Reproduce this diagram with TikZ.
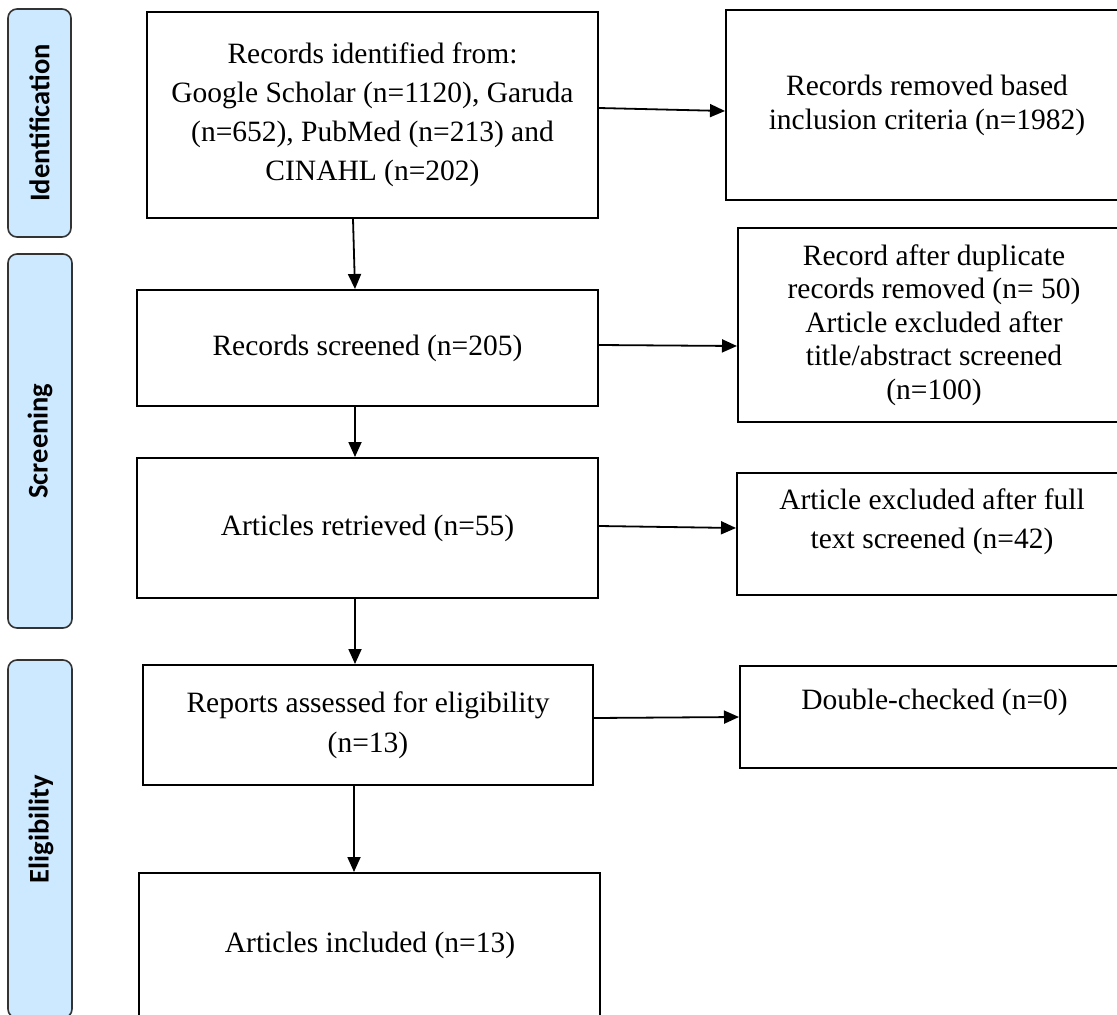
\documentclass[tikz,border=0pt]{standalone}
\usepackage{fontspec}
\setmainfont{Liberation Serif}
\newfontfamily\sidefont{Carlito}
\usetikzlibrary{arrows.meta}
\definecolor{sidefill}{HTML}{CCE9FF}
\definecolor{sidedraw}{HTML}{333333}
\begin{document}
\begin{tikzpicture}[x=1pt,y=-1pt,
  box/.style={draw=black, line width=2pt, inner sep=0pt, align=center},
  txt/.style={inner sep=0pt, align=center},
  side/.style={draw=sidedraw, fill=sidefill, line width=1.6pt, rounded corners=9pt, inner sep=0pt},
  sidetxt/.style={rotate=90, inner sep=0pt, font=\sidefont\bfseries\fontsize{28.5}{30}\selectfont},
  arr/.style={line width=1.8pt, -{Triangle[length=15pt,width=13pt]}}]
\useasboundingbox (0,0) rectangle (1117,1015);
\clip (0,0) rectangle (1117,1015);

% side labels
\node[side, minimum width=63pt, minimum height=228pt] (S1) at (39.5,123) {};
\node[sidetxt] (S1t) at (S1.center) {Identification};
\node[side, minimum width=64pt, minimum height=374pt] (S2) at (40,441) {};
\node[sidetxt] (S2t) at (S2.center) {Screening};
\node[side, minimum width=64pt, minimum height=358pt] (S3) at (40,839) {};
\node[sidetxt] (S3t) at (41,829) {Eligibility};

% main column
\node[box, minimum width=451pt, minimum height=206pt, font=\fontsize{29.5}{39}\selectfont] (B1) at (372.5,115)
  {Records identified from:\\Google Scholar (n=1120), Garuda\\(n=652), PubMed (n=213) and\\CINAHL (n=202)};
\node[box, minimum width=461pt, minimum height=116pt, font=\fontsize{29.5}{34}\selectfont] (B2) at (367.5,348)
  {Records screened (n=205)};
\node[box, minimum width=461pt, minimum height=140pt, font=\fontsize{29.5}{34}\selectfont] (B3) at (367.5,528)
  {Articles retrieved (n=55)};
\node[box, minimum width=450pt, minimum height=120pt, font=\fontsize{29.5}{40}\selectfont] (B4) at (368,725)
  {Reports assessed for eligibility\\(n=13)};
\node[box, minimum width=461pt, minimum height=145pt] (B5) at (369.5,945.5) {};
\node[txt, font=\fontsize{29.5}{34}\selectfont] (B5t) at (370,945) {Articles included (n=13)};

% right column
\node[box, minimum width=402pt, minimum height=190pt, font=\fontsize{29.5}{34}\selectfont] (R1) at (927,105)
  {Records removed based\\inclusion criteria (n=1982)};
\node[box, minimum width=392pt, minimum height=194pt, font=\fontsize{29.5}{33.5}\selectfont] (R2) at (934,325)
  {Record after duplicate\\records removed (n= 50)\\Article excluded after\\title/abstract screened\\(n=100)};
\node[box, minimum width=391pt, minimum height=122pt] (R3) at (932.5,534) {};
\node[txt, font=\fontsize{29.5}{39}\selectfont] (R3t) at (932,522)
  {Article excluded after full\\text screened (n=42)};
\node[box, minimum width=390pt, minimum height=102pt] (R4) at (935,717) {};
\node[txt, font=\fontsize{29.5}{34}\selectfont] (R4t) at (934.5,702) {Double-checked (n=0)};

% connectors
\draw[arr] ([yshift=7pt]B1.east) -- ([yshift=-6pt]R1.west);
\draw[arr] ([yshift=3pt]B2.east) -- ([yshift=-21pt]R2.west);
\draw[arr] ([yshift=2pt]B3.east) -- ([yshift=6pt]R3.west);
\draw[arr] ([yshift=7pt]B4.east) -- (R4.west);

\draw[arr] ([xshift=-19.5pt]B1.south) -- ([xshift=-12.5pt]B2.north);
\draw[arr] ([xshift=-12.5pt]B2.south) -- ([xshift=-12.5pt]B3.north);
\draw[arr] ([xshift=-12.5pt]B3.south) -- ([xshift=-13pt]B4.north);
\draw[arr] ([xshift=-14pt]B4.south) -- ([xshift=-15.5pt]B5.north);
\end{tikzpicture}
\end{document}
